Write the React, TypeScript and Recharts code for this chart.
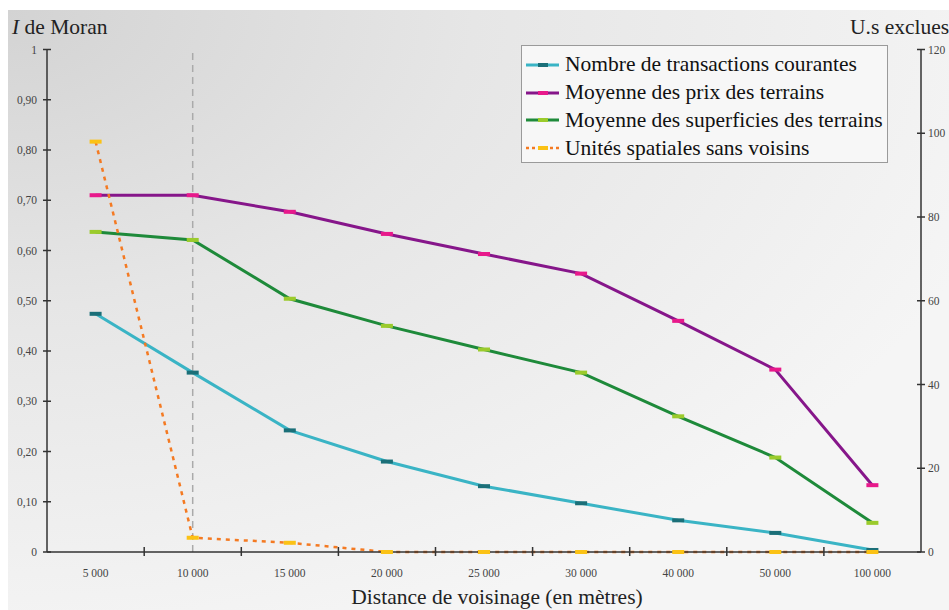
import { ComposedChart, Line, XAxis, YAxis, ReferenceLine } from "recharts";

const categories = ["5 000", "10 000", "15 000", "20 000", "25 000", "30 000", "40 000", "50 000", "100 000"];
const transactions = [0.474, 0.357, 0.242, 0.18, 0.131, 0.097, 0.063, 0.038, 0.004];
const prix = [0.71, 0.71, 0.677, 0.633, 0.593, 0.554, 0.46, 0.363, 0.133];
const superficies = [0.637, 0.621, 0.504, 0.45, 0.403, 0.357, 0.27, 0.188, 0.058];
const unitesSansVoisins = [98, 3.4, 2.2, 0, 0, 0, 0, 0, 0];

const moranTicks = [0, 0.1, 0.2, 0.3, 0.4, 0.5, 0.6, 0.7, 0.8, 0.9, 1];
const exclusTicks = [0, 20, 40, 60, 80, 100, 120];

const data = categories.map((c, i) => ({
  distance: c,
  transactions: transactions[i],
  prix: prix[i],
  superficies: superficies[i],
  unites: unitesSansVoisins[i],
}));

const series = [
  { key: "transactions", name: "Nombre de transactions courantes", color: "#3ab4c5", mark: "#1b6f78", dashed: false },
  { key: "prix", name: "Moyenne des prix des terrains", color: "#86168a", mark: "#e8198b", dashed: false },
  { key: "superficies", name: "Moyenne des superficies des terrains", color: "#1e8a3a", mark: "#9bcb2c", dashed: false },
  { key: "unites", name: "Unités spatiales sans voisins", color: "#f47a22", mark: "#fbc215", dashed: true },
];

const SERIF = "'Liberation Serif', 'DejaVu Serif', 'Times New Roman', Times, serif";
const AXIS = "#333";
const HALF_BAND = 48.6;

const fmtMoran = (v: number) => (v === 0 ? "0" : v === 1 ? "1" : v.toFixed(2).replace(".", ","));

const dash = (color: string) => (props: any) => {
  const { cx, cy, index } = props;
  if (cx == null || cy == null) return <g key={index} />;
  return <rect key={index} x={cx - 6} y={cy - 2} width={12} height={4} fill={color} />;
};

const LeftTick = (props: any) => {
  const { x, y, payload } = props;
  return (
    <g>
      <line x1={x - 4} x2={x + 4} y1={y} y2={y} stroke={AXIS} strokeWidth={1.5} />
      <text x={x - 10} y={y + 4} textAnchor="end" fontSize={11.5} fill="#444" style={{ fontFamily: SERIF }}>
        {fmtMoran(payload.value)}
      </text>
    </g>
  );
};

const RightTick = (props: any) => {
  const { x, y, payload } = props;
  return (
    <g>
      <line x1={x - 4} x2={x + 4} y1={y} y2={y} stroke={AXIS} strokeWidth={1.5} />
      <text x={x + 7} y={y + 4} textAnchor="start" fontSize={11.5} fill="#444" style={{ fontFamily: SERIF }}>
        {payload.value}
      </text>
    </g>
  );
};

const BottomTick = (props: any) => {
  const { x, y, payload, index } = props;
  return (
    <g>
      {index < categories.length - 1 && (
        <line x1={x + HALF_BAND} x2={x + HALF_BAND} y1={y - 5} y2={y + 4} stroke={AXIS} strokeWidth={1.5} />
      )}
      <text x={x} y={y + 25} textAnchor="middle" fontSize={11.5} fill="#444" style={{ fontFamily: SERIF }}>
        {payload.value}
      </text>
    </g>
  );
};

const LegendBox = () => (
  <div
    style={{
      position: "absolute",
      left: 521,
      top: 45,
      width: 367,
      height: 118,
      border: "1px solid #9a9a9a",
      background: "#f7f7f7",
      boxSizing: "border-box",
      padding: "5px 0 0 4px",
      fontFamily: SERIF,
    }}
  >
    {series.map((s) => (
      <div key={s.key} style={{ display: "flex", alignItems: "center", height: 27.8 }}>
        <svg width={34} height={10} style={{ marginRight: 5 }}>
          <line
            x1={0}
            x2={33}
            y1={5}
            y2={5}
            stroke={s.color}
            strokeWidth={s.dashed ? 2.5 : 3}
            strokeDasharray={s.dashed ? "3 3" : undefined}
          />
          <rect x={12} y={3} width={10} height={4} fill={s.mark} />
        </svg>
        <span style={{ fontSize: 21.5, color: "#111", lineHeight: 1, whiteSpace: "nowrap" }}>{s.name}</span>
      </div>
    ))}
  </div>
);

export default function App() {
  return (
    <div style={{ position: "absolute", left: 0, top: 0, width: 949, height: 610, background: "#fff", overflow: "hidden", fontFamily: SERIF }}>
      <div
        style={{
          position: "absolute",
          left: 8,
          top: 10,
          width: 941,
          height: 600,
          background: "radial-gradient(ellipse 110% 110% at 0% 0%, #d3d3d3 0%, #e6e6e6 45%, #f5f5f5 100%)",
        }}
      />
      <div style={{ position: "absolute", left: 0, top: 0 }}>
        <ComposedChart width={949} height={610} data={data} margin={{ top: 49.5, right: 0, bottom: 18, left: 1 }}>
          <XAxis
            dataKey="distance"
            padding={{ left: HALF_BAND, right: HALF_BAND }}
            tickLine={false}
            tickSize={0}
            tickMargin={0}
            height={40}
            axisLine={{ stroke: AXIS, strokeWidth: 1.5 }}
            tick={<BottomTick />}
            interval={0}
          />
          <YAxis
            yAxisId="moran"
            domain={[0, 1]}
            ticks={moranTicks}
            width={46}
            tickLine={false}
            tickSize={0}
            tickMargin={0}
            axisLine={{ stroke: AXIS, strokeWidth: 1.5 }}
            tick={<LeftTick />}
            interval={0}
          />
          <YAxis
            yAxisId="exclus"
            orientation="right"
            domain={[0, 120]}
            ticks={exclusTicks}
            width={28}
            tickLine={false}
            tickSize={0}
            tickMargin={0}
            axisLine={{ stroke: AXIS, strokeWidth: 1.5 }}
            tick={<RightTick />}
            interval={0}
          />
          <ReferenceLine yAxisId="moran" x="10 000" stroke="#aaa" strokeWidth={1.5} strokeDasharray="7 5" />
          {series.map((s) => (
            <Line
              key={s.key}
              yAxisId={s.key === "unites" ? "exclus" : "moran"}
              dataKey={s.key}
              name={s.name}
              type="linear"
              stroke={s.color}
              strokeWidth={s.dashed ? 2.5 : 3}
              strokeDasharray={s.dashed ? "4 5" : undefined}
              dot={dash(s.mark)}
              activeDot={false}
              isAnimationActive={false}
            />
          ))}
        </ComposedChart>
      </div>
      <LegendBox />
      <div style={{ position: "absolute", left: 12, top: 17, fontSize: 21.5, color: "#222", whiteSpace: "nowrap", lineHeight: 1 }}>
        <i>I</i> de Moran
      </div>
      <div style={{ position: "absolute", left: 850, top: 17, fontSize: 21.5, color: "#222", whiteSpace: "nowrap", lineHeight: 1 }}>
        U.s exclues
      </div>
      <div style={{ position: "absolute", left: 0, width: 994, top: 587, textAlign: "center", fontSize: 21.5, color: "#222", lineHeight: 1 }}>
        Distance de voisinage (en mètres)
      </div>
    </div>
  );
}
